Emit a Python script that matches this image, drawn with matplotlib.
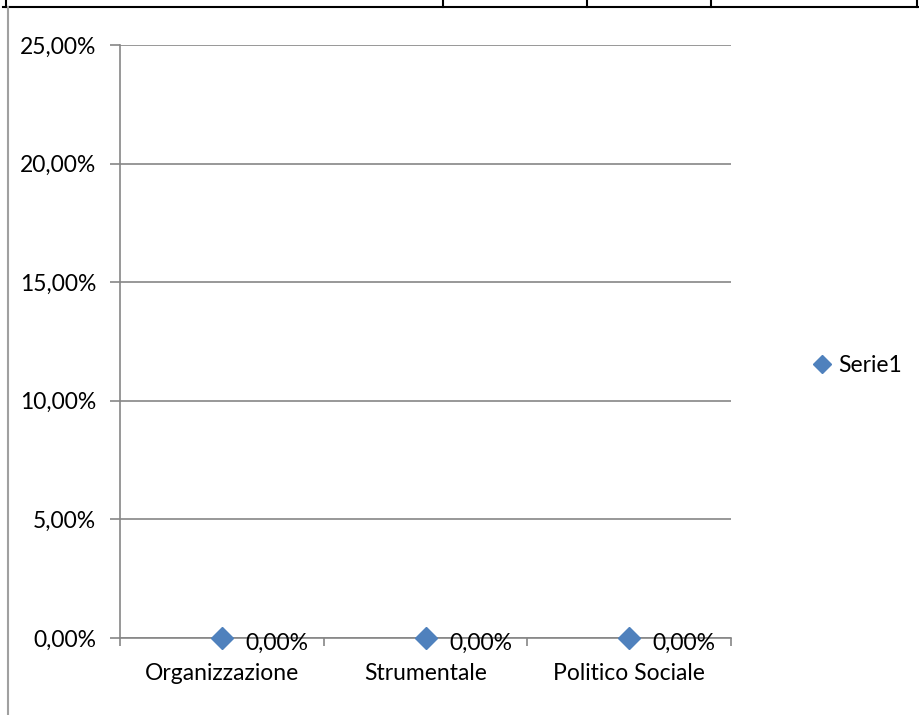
import matplotlib.pyplot as plt
from matplotlib.lines import Line2D
from matplotlib.ticker import FuncFormatter

categories = ["Organizzazione", "Strumentale", "Politico Sociale"]
values = [0.0, 0.0, 0.0]
series_name = "Serie1"
y_ticks = [0, 5, 10, 15, 20, 25]

plt.rcParams['font.family'] = ['Lato', 'DejaVu Sans']
blue = '#4f81bd'
grid_grey = '#868686'
fs = 16.5

W, H = 919, 715
fig = plt.figure(figsize=(W / 100, H / 100), dpi=100)

# table borders around the chart
fig.add_artist(Line2D([3 / W, 1], [1 - 7 / H, 1 - 7 / H], color='black', lw=1.5))
for xv in [6, 443, 587, 711, 917]:
    fig.add_artist(Line2D([xv / W, xv / W], [1, 1 - 7 / H], color='black', lw=1.5))
fig.add_artist(Line2D([8 / W, 8 / W], [1 - 7 / H, 0], color='#a0a0a0', lw=1.5))

ax = fig.add_axes([120 / W, 1 - 638 / H, 611 / W, 593 / H])
x = [i + 0.5 for i in range(len(categories))]
ax.plot(x, values, linestyle='none', marker='D', markersize=11, color=blue,
        clip_on=False, zorder=5, label=series_name)
for xi, v in zip(x, values):
    ax.annotate(f"{v:.2f}%".replace('.', ','), (xi, v), xytext=(17, -4),
                textcoords='offset points', ha='left', va='center', fontsize=fs, zorder=6)

ax.set_xlim(0, len(categories))
ax.set_ylim(0, 25)
ax.set_yticks(y_ticks)
ax.yaxis.set_major_formatter(FuncFormatter(lambda v, p: f"{v:.2f}%".replace('.', ',')))
ax.set_xticks(range(len(categories) + 1))
ax.set_xticklabels([])
ax.set_xticks(x, minor=True)
ax.set_xticklabels(categories, minor=True)
ax.tick_params(axis='x', which='minor', length=0, pad=18, labelsize=fs)
ax.tick_params(axis='x', which='major', length=6, color=grid_grey, width=1.2)
ax.tick_params(axis='y', length=7, color=grid_grey, width=1.2, labelsize=fs, pad=10)

ax.grid(axis='y', color=grid_grey, lw=1.2)
ax.set_axisbelow(True)
for side in ['top', 'right']:
    ax.spines[side].set_visible(False)
ax.spines['left'].set_color(grid_grey)
ax.spines['bottom'].set_color(grid_grey)
ax.spines['left'].set_linewidth(1.2)
ax.spines['bottom'].set_linewidth(1.2)

fig.legend(loc='center left', bbox_to_anchor=(792 / W, 1 - 366 / H), frameon=False,
           fontsize=fs, handlelength=0.8, handletextpad=0.3, markerscale=0.85)

fig.savefig('out.png', dpi=100)
